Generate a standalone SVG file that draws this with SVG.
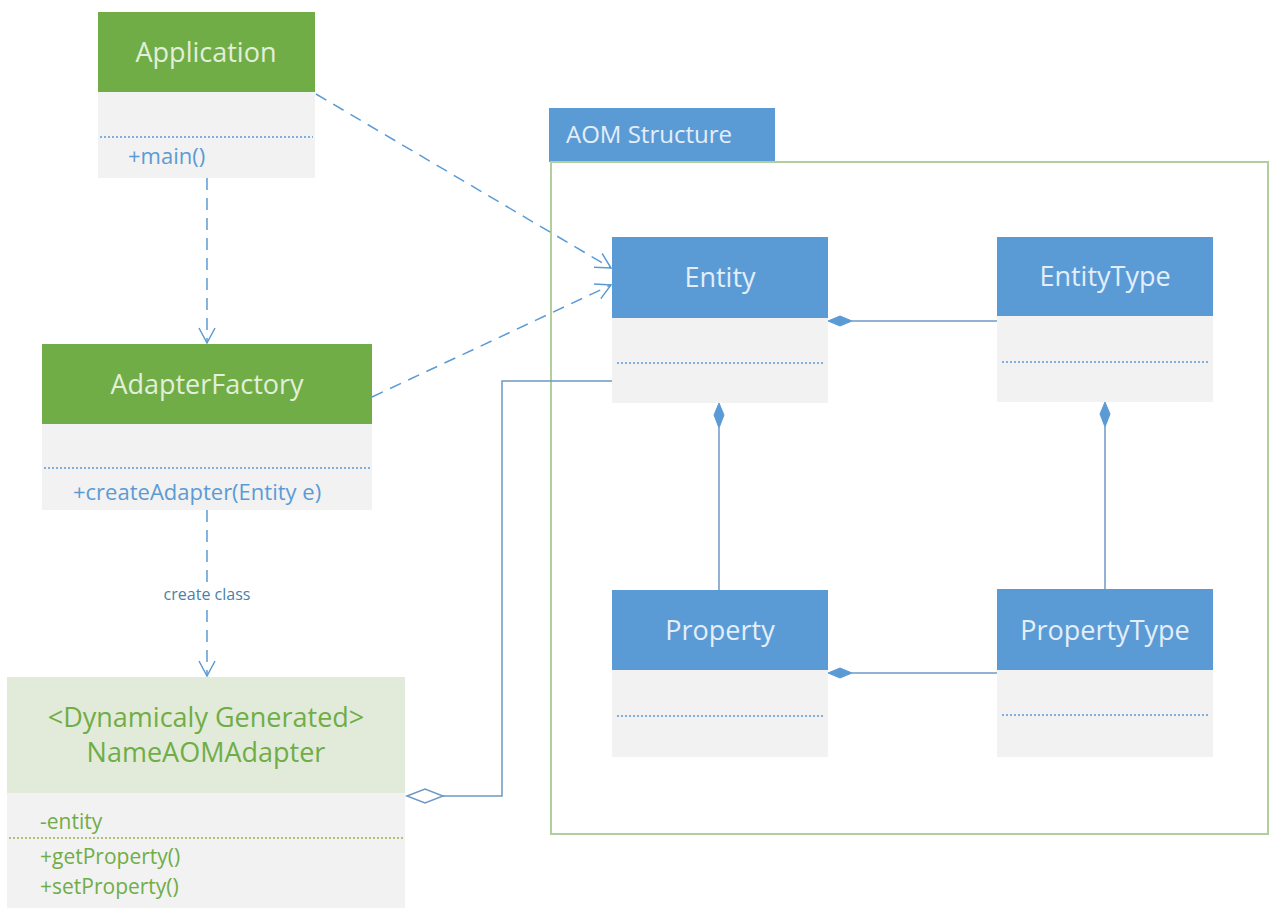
<svg xmlns="http://www.w3.org/2000/svg" width="1271" height="908" viewBox="0 0 1271 908">
<style>
.hdrG{fill:#70ad47}
.hdrB{fill:#5b9bd5}
.body{fill:#f2f2f2}
.ttl{font-family:"Open Sans","Noto Sans",sans-serif;font-size:27px;text-anchor:middle}
.ttlG{fill:#e2efda}
.ttlB{fill:#e4eef9}
.mem{font-family:"Open Sans","Noto Sans",sans-serif;font-size:22px;fill:#5b9bd5}
.memG{font-family:"Open Sans","Noto Sans",sans-serif;font-size:21px;fill:#70ad47}
.dot{stroke:#5b9bd5;stroke-width:1.5;stroke-dasharray:2 2;fill:none}
.dotG{stroke:#a0ad55;stroke-width:1.5;stroke-dasharray:2 2;fill:none}
.dash{stroke:#5b9bd5;stroke-width:1.5;stroke-dasharray:12 8;fill:none}
.solid{stroke:#6d98c4;stroke-width:1.5;fill:none}
.comp{fill:#5b9bd5;stroke:#5b9bd5;stroke-width:1}
.lbl{font-family:"Open Sans","Noto Sans",sans-serif;font-size:16px;fill:#4a7fa8;text-anchor:middle}
</style>
<defs>
<marker id="open" markerWidth="18" markerHeight="18" refX="16" refY="9" orient="auto" markerUnits="userSpaceOnUse">
<path d="M1,1 L16,9 L1,17" fill="none" stroke="#5b9bd5" stroke-width="1.5"/>
</marker>
</defs>
<rect width="1271" height="908" fill="#ffffff"/>

<g id="aom-structure">
<rect x="549" y="108" width="226" height="54" fill="#5b9bd5"/>
<text x="566" y="143" font-family="'Open Sans','Noto Sans',sans-serif" font-size="24" fill="#e4eef9">AOM Structure</text>
<rect x="551" y="162" width="717" height="672" fill="none" stroke="#b1cf9c" stroke-width="2"/>
</g>

<g id="connectors">
<line class="dash" x1="207" y1="178" x2="207" y2="343" marker-end="url(#open)"/>
<line class="dash" x1="316" y1="94" x2="611" y2="268" marker-end="url(#open)"/>
<line class="dash" x1="372" y1="397" x2="611" y2="285" marker-end="url(#open)"/>
<line class="dash" x1="207" y1="510" x2="207" y2="676" marker-end="url(#open)"/>
<rect x="156" y="584" width="102" height="20" fill="#ffffff"/>
<text class="lbl" x="207" y="600">create class</text>
<polyline class="solid" points="443,796 502,796 502,381 612,381"/>
<polygon points="407,796 425,789 443,796 425,803" fill="#ffffff" stroke="#6d98c4" stroke-width="1.5"/>
<line class="solid" x1="852" y1="321" x2="997" y2="321"/>
<polygon class="comp" points="828,321 840,316 852,321 840,326"/>
<line class="solid" x1="719" y1="428" x2="719" y2="590"/>
<polygon class="comp" points="719,403 714,415 719,428 724,415"/>
<line class="solid" x1="1105" y1="427" x2="1105" y2="589"/>
<polygon class="comp" points="1105,402 1100,414 1105,427 1110,414"/>
<line class="solid" x1="852" y1="673" x2="997" y2="673"/>
<polygon class="comp" points="828,673 840,668 852,673 840,678"/>
</g>

<g id="application">
<rect class="hdrG" x="98" y="12" width="217" height="80"/>
<rect class="body" x="98" y="92" width="217" height="86"/>
<text class="ttl ttlG" x="206" y="62">Application</text>
<line class="dot" x1="100" y1="137" x2="313" y2="137"/>
<text class="mem" x="128" y="164">+main()</text>
</g>

<g id="adapter-factory">
<rect class="hdrG" x="42" y="344" width="330" height="80"/>
<rect class="body" x="42" y="424" width="330" height="86"/>
<text class="ttl ttlG" x="207" y="394">AdapterFactory</text>
<line class="dot" x1="44" y1="468" x2="370" y2="468"/>
<text class="mem" x="73" y="500">+createAdapter(Entity e)</text>
</g>

<g id="name-aom-adapter">
<rect x="7" y="677" width="398" height="116" fill="#e2ebda"/>
<rect class="body" x="7" y="793" width="398" height="115"/>
<text class="ttl" x="206" y="727" fill="#70ad47" font-size="28">&lt;Dynamicaly Generated&gt;</text>
<text class="ttl" x="206" y="762" fill="#70ad47" font-size="28">NameAOMAdapter</text>
<text class="memG" x="40" y="829">-entity</text>
<line class="dotG" x1="9" y1="838" x2="403" y2="838"/>
<text class="memG" x="40" y="864">+getProperty()</text>
<text class="memG" x="40" y="894">+setProperty()</text>
</g>

<g id="entity">
<rect class="hdrB" x="612" y="237" width="216" height="81"/>
<rect class="body" x="612" y="318" width="216" height="85"/>
<text class="ttl ttlB" x="720" y="287">Entity</text>
<line class="dot" x1="617" y1="363" x2="823" y2="363"/>
</g>

<g id="entity-type">
<rect class="hdrB" x="997" y="237" width="216" height="79"/>
<rect class="body" x="997" y="316" width="216" height="86"/>
<text class="ttl ttlB" x="1105" y="286">EntityType</text>
<line class="dot" x1="1002" y1="362" x2="1208" y2="362"/>
</g>

<g id="property">
<rect class="hdrB" x="612" y="590" width="216" height="80"/>
<rect class="body" x="612" y="670" width="216" height="87"/>
<text class="ttl ttlB" x="720" y="640">Property</text>
<line class="dot" x1="617" y1="716" x2="823" y2="716"/>
</g>

<g id="property-type">
<rect class="hdrB" x="997" y="589" width="216" height="81"/>
<rect class="body" x="997" y="670" width="216" height="87"/>
<text class="ttl ttlB" x="1105" y="640">PropertyType</text>
<line class="dot" x1="1002" y1="715" x2="1208" y2="715"/>
</g>
</svg>
